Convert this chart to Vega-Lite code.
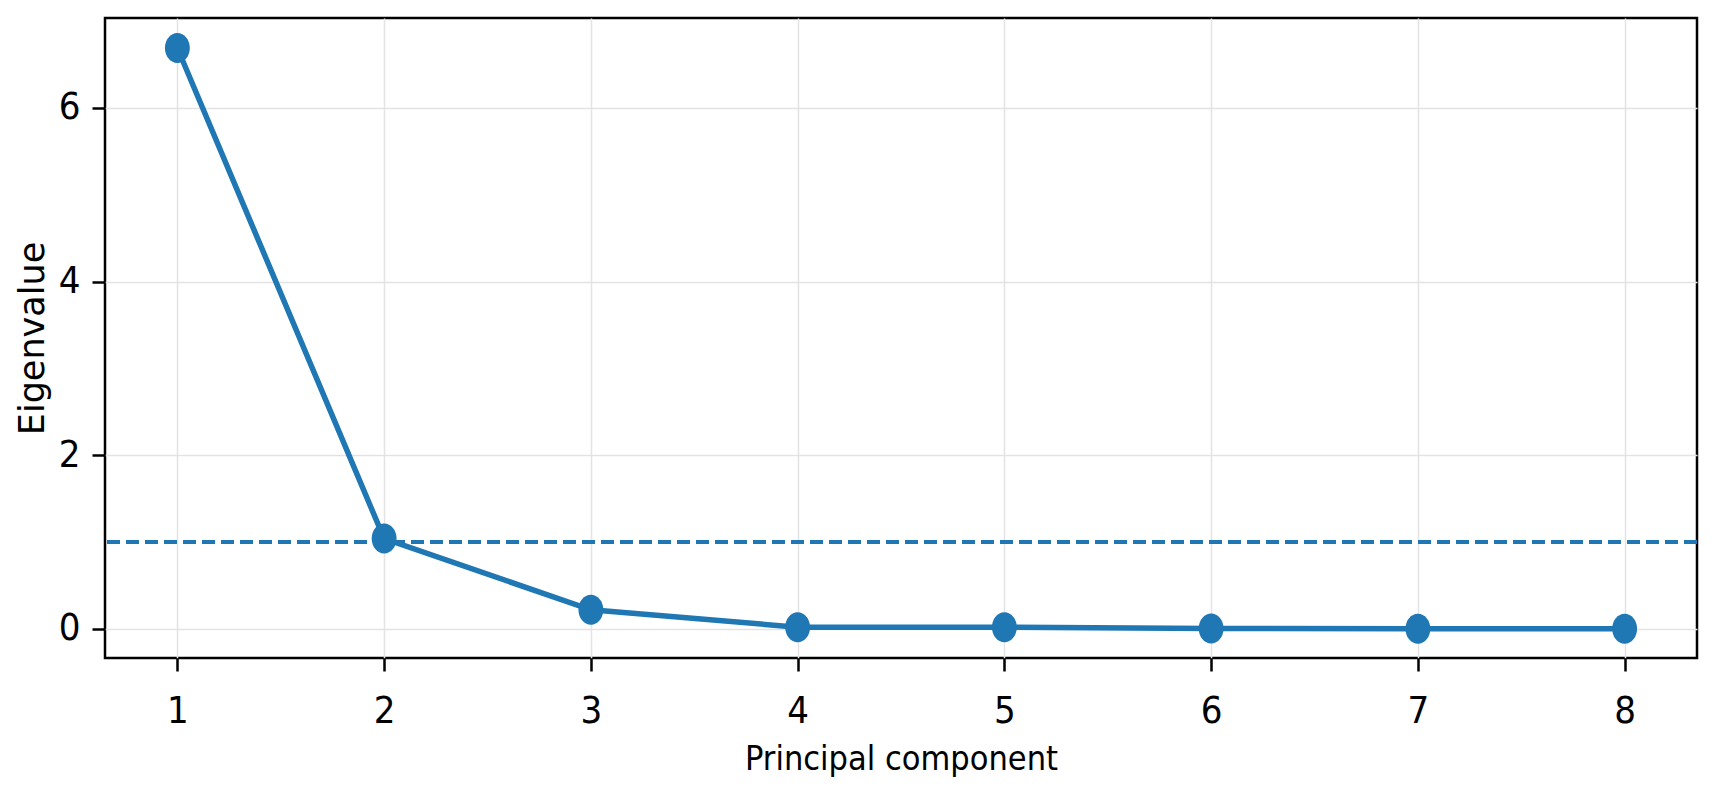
{
  "$schema": "https://vega.github.io/schema/vega-lite/v6.json",
  "autosize": "none",
  "width": 1592,
  "height": 640,
  "padding": {"left": 105, "top": 18, "right": 18, "bottom": 140},
  "background": "white",
  "config": {
    "view": {"stroke": "black", "strokeWidth": 2.5},
    "axis": {
      "labelFont": "DejaVu Sans Condensed, DejaVu Sans",
      "titleFont": "DejaVu Sans Condensed, DejaVu Sans",
      "labelColor": "black",
      "titleColor": "black",
      "titleFontWeight": "normal",
      "domain": false,
      "tickColor": "black",
      "tickWidth": 2.5,
      "tickSize": 13,
      "gridColor": "#e3e3e3",
      "gridWidth": 1.5
    }
  },
  "data": {
    "values": [
      {"component": 1, "eigenvalue": 6.69},
      {"component": 2, "eigenvalue": 1.04},
      {"component": 3, "eigenvalue": 0.22},
      {"component": 4, "eigenvalue": 0.02},
      {"component": 5, "eigenvalue": 0.02},
      {"component": 6, "eigenvalue": 0.005},
      {"component": 7, "eigenvalue": 0.003},
      {"component": 8, "eigenvalue": 0.001}
    ]
  },
  "encoding": {
    "x": {
      "field": "component",
      "type": "quantitative",
      "title": "Principal component",
      "scale": {"domain": [0.65, 8.35], "nice": false, "zero": false},
      "axis": {
        "values": [1, 2, 3, 4, 5, 6, 7, 8],
        "format": "d",
        "labelFontSize": 38,
        "labelPadding": 21,
        "titleFontSize": 34,
        "titleBaseline": "alphabetic",
        "titleY": 111
      }
    },
    "y": {
      "field": "eigenvalue",
      "type": "quantitative",
      "title": "Eigenvalue",
      "scale": {"domain": [-0.335, 7.035], "nice": false, "zero": false},
      "axis": {
        "values": [0, 2, 4, 6],
        "format": "d",
        "labelFontSize": 38,
        "labelPadding": 12,
        "titleFont": "DejaVu Sans",
        "titleFontSize": 35,
        "titleBaseline": "alphabetic",
        "titleX": -62
      }
    }
  },
  "layer": [
    {
      "mark": {"type": "rule", "color": "#1f77b4", "strokeWidth": 3, "strokeDash": [13, 6]},
      "encoding": {"y": {"datum": 1}, "x": null}
    },
    {
      "mark": {"type": "line", "color": "#1f77b4", "strokeWidth": 5.5}
    },
    {
      "mark": {
        "type": "point",
        "filled": true,
        "opacity": 1,
        "color": "#1f77b4",
        "size": 900,
        "shape": "M -0.83,0 A 0.83,1 0 1,0 0.83,0 A 0.83,1 0 1,0 -0.83,0 Z"
      }
    }
  ]
}
